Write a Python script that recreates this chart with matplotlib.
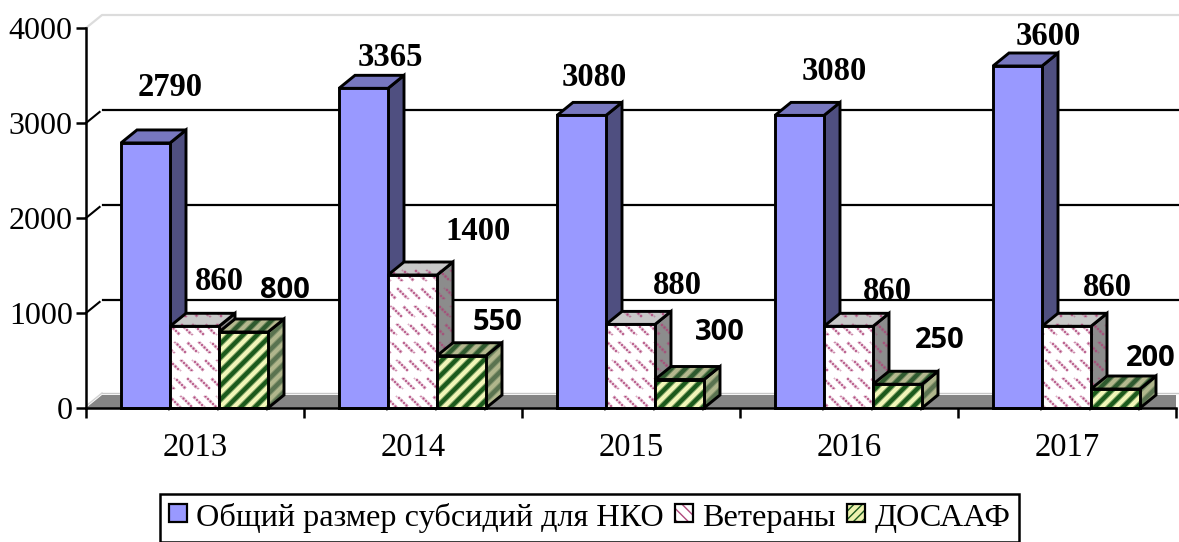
import matplotlib
matplotlib.use('Agg')
import matplotlib.pyplot as plt
import numpy as np
from matplotlib.legend_handler import HandlerBase
from matplotlib.patches import Patch, Polygon, Rectangle

years = ['2013', '2014', '2015', '2016', '2017']
total = [2790, 3365, 3080, 3080, 3600]
veterans = [860, 1400, 880, 860, 860]
dosaaf = [800, 550, 300, 250, 200]
series_names = ['Общий размер субсидий для НКО', 'Ветераны', 'ДОСААФ']

# label centres in figure pixels, placed by hand as in the original chart
total_label_px = [(170, 88), (390, 57), (594, 77), (834, 71), (1048, 37)]
veterans_label_px = [(219, 281), (478, 232), (677, 286), (887, 291), (1107, 288)]
dosaaf_label_px = [(285, 291), (498, 322), (720, 332), (940, 340), (1151, 358)]

W, H = 1179, 542
AX_L, AX_R, AX_T, AX_B = 86, 1176, 28, 408
SERIF = 'Liberation Serif'
SANS = 'Open Sans'

plt.rcParams['font.family'] = SERIF

fig = plt.figure(figsize=(W / 100, H / 100), dpi=100)
ax = fig.add_axes([AX_L / W, 1 - AX_B / H, (AX_R - AX_L) / W, (AX_B - AX_T) / H])
ax.set_xlim(0, 5)
ax.set_ylim(0, 4000)

px_x = 5 / (AX_R - AX_L)
px_y = 4000 / (AX_B - AX_T)
DX = 16 * px_x
DY = 13 * px_y
BAR_W = 49 * px_x
GROUP_PAD = 35 * px_x

# whole figure extent in data units, textures are laid over this
FULL_EXTENT = (-AX_L * px_x, (W - AX_L) * px_x, (AX_B - H) * px_y, AX_B * px_y)
yy, xx = np.mgrid[0:H, 0:W]


def _soften(m):
    return (m * 2 + np.roll(m, 1, 0) + np.roll(m, -1, 0) + np.roll(m, 1, 1) + np.roll(m, -1, 1)) / 6


def _pink_mask():
    m = ((xx - yy) % 12 < 3) & (yy % 18 < 11) & ((xx + yy) % 5 < 3)
    return _soften(m.astype(float)) * 1.25


def _green_mask():
    return _soften(((xx + yy) % 14 < 7).astype(float))


def _texture(mask, base, ink):
    base = np.array(matplotlib.colors.to_rgb(base))
    ink = np.array(matplotlib.colors.to_rgb(ink))
    mask = np.clip(mask, 0, 1)
    return base[None, None, :] * (1 - mask[..., None]) + ink[None, None, :] * mask[..., None]


pink = _pink_mask()
green = _green_mask()
TEX = {
    'pink': [_texture(pink, '#ffffff', '#b0487c'),
             _texture(pink, '#c8c8c8', '#b0487c'),
             _texture(pink, '#8c8c8c', '#a84a78')],
    'green': [_texture(green, '#f2f6b8', '#1c5a1c'),
              _texture(green, '#b4b88e', '#2f5a2f'),
              _texture(green, '#b0b68c', '#5a7350')],
}
BLUE = ['#9999ff', '#7777bf', '#4f4f80']
ZORDER = 5


def _face(verts, color=None, tex=None):
    global ZORDER
    ZORDER += 1
    if tex is not None:
        poly = Polygon(verts, closed=True, facecolor='none', edgecolor='none',
                       transform=ax.transData)
        im = ax.imshow(tex, extent=FULL_EXTENT, aspect='auto', origin='upper',
                       interpolation='bilinear', zorder=ZORDER)
        im.set_clip_path(poly)
    ZORDER += 1
    ax.add_patch(Polygon(verts, closed=True, clip_on=False, zorder=ZORDER,
                         facecolor=color if color else 'none',
                         edgecolor='black', linewidth=2.1, joinstyle='miter'))


def _plot_bar(x0, value, colors=None, tex=None):
    x1 = x0 + BAR_W
    front = [(x0, 0), (x1, 0), (x1, value), (x0, value)]
    top = [(x0, value), (x1, value), (x1 + DX, value + DY), (x0 + DX, value + DY)]
    side = [(x1, 0), (x1 + DX, DY), (x1 + DX, value + DY), (x1, value)]
    for verts, j in zip([side, top, front], [2, 1, 0]):
        if tex:
            _face(verts, tex=tex[j])
        else:
            _face(verts, color=colors[j])


# floor and walls
ax.add_patch(Polygon([(0, 0), (DX, DY), (5, DY), (5, 0)], closed=True,
                     facecolor='#858585', edgecolor='none', zorder=1, clip_on=False))
ax.plot([DX, 5.02], [DY + 2 * px_y] * 2, color='#c8c8c8', lw=1, zorder=1, clip_on=False)
ax.plot([0, DX, 5.02], [4000, 4000 + DY, 4000 + DY], color='#dcdcdc', lw=1.6, zorder=1,
        clip_on=False)
ax.plot([0, DX], [2 * px_y, DY + 2 * px_y], color='#d2d2d2', lw=1, zorder=1, clip_on=False)
for v in [1000, 2000, 3000]:
    ax.plot([0, DX * 0.85], [v, v + DY * 0.85], color='black', lw=1.5, zorder=2, clip_on=False)
    ax.plot([DX * 1.06, 5.02], [v + DY, v + DY], color='black', lw=1.6, zorder=2, clip_on=False)

for i in range(len(years)):
    x0 = i + GROUP_PAD
    _plot_bar(x0, total[i], colors=BLUE)
    _plot_bar(x0 + BAR_W, veterans[i], tex=TEX['pink'])
    _plot_bar(x0 + 2 * BAR_W, dosaaf[i], tex=TEX['green'])

ax.set_xlim(0, 5)
ax.set_ylim(0, 4000)


def _label(pos, value, family, size):
    px, py = pos
    ax.text((px - AX_L) * px_x, (AX_B - py) * px_y, str(value), family=family, fontsize=size,
            fontweight='bold', ha='center', va='center', zorder=200, clip_on=False)


for i in range(len(years)):
    _label(total_label_px[i], total[i], SERIF, 23.5)
    _label(veterans_label_px[i], veterans[i], SERIF, 23.5)
    _label(dosaaf_label_px[i], dosaaf[i], SANS, 21)

for s in ['top', 'right']:
    ax.spines[s].set_visible(False)
for s in ['left', 'bottom']:
    ax.spines[s].set_linewidth(1.8)
    ax.spines[s].set_zorder(150)

ax.set_yticks([0, 1000, 2000, 3000, 4000])
ax.set_xticks(range(6))
ax.set_xticklabels([])
ax.set_xticks(np.arange(5) + 0.5, labels=years, minor=True)
ax.tick_params(axis='x', which='major', length=7, width=1.8)
ax.tick_params(axis='x', which='minor', length=0, labelsize=23.5, pad=17.5)
ax.tick_params(axis='y', length=7, width=1.8, labelsize=23, pad=2.5)


class _SwatchHandler(HandlerBase):
    def create_artists(self, legend, orig_handle, xdescent, ydescent, width, height, fontsize, trans):
        face, ink, hatch = orig_handle.swatch
        side = 13
        x = (width - side) / 2 - xdescent
        y = (height - side) / 2 - ydescent + 1
        fill = Rectangle((x, y), side, side, facecolor=face, edgecolor=ink if ink else 'none',
                         hatch=hatch, linewidth=0, transform=trans)
        edge = Rectangle((x, y), side, side, facecolor='none', edgecolor='black',
                         linewidth=1.6, transform=trans)
        return [fill, edge]


handles = []
for name, sw in zip(series_names, [('#9999ff', None, None),
                                   ('#ffffff', '#b0487c', '\\\\\\'),
                                   ('#eef2b0', '#1c5a1c', '////')]):
    h = Patch(label=name)
    h.swatch = sw
    handles.append(h)

leg = ax.legend(handles=handles, ncol=3, loc='center',
                bbox_to_anchor=(589.5 / W, 1 - 518 / H), bbox_transform=fig.transFigure,
                fontsize=23.2, frameon=True, fancybox=False, framealpha=1, edgecolor='black',
                handler_map={Patch: _SwatchHandler()}, handlelength=0.56, handleheight=0.7,
                handletextpad=0.3, columnspacing=0.33, borderpad=0.28, borderaxespad=0)
leg.get_frame().set_linewidth(1.8)
leg.set_zorder(300)

fig.savefig('out.png', dpi=100)
